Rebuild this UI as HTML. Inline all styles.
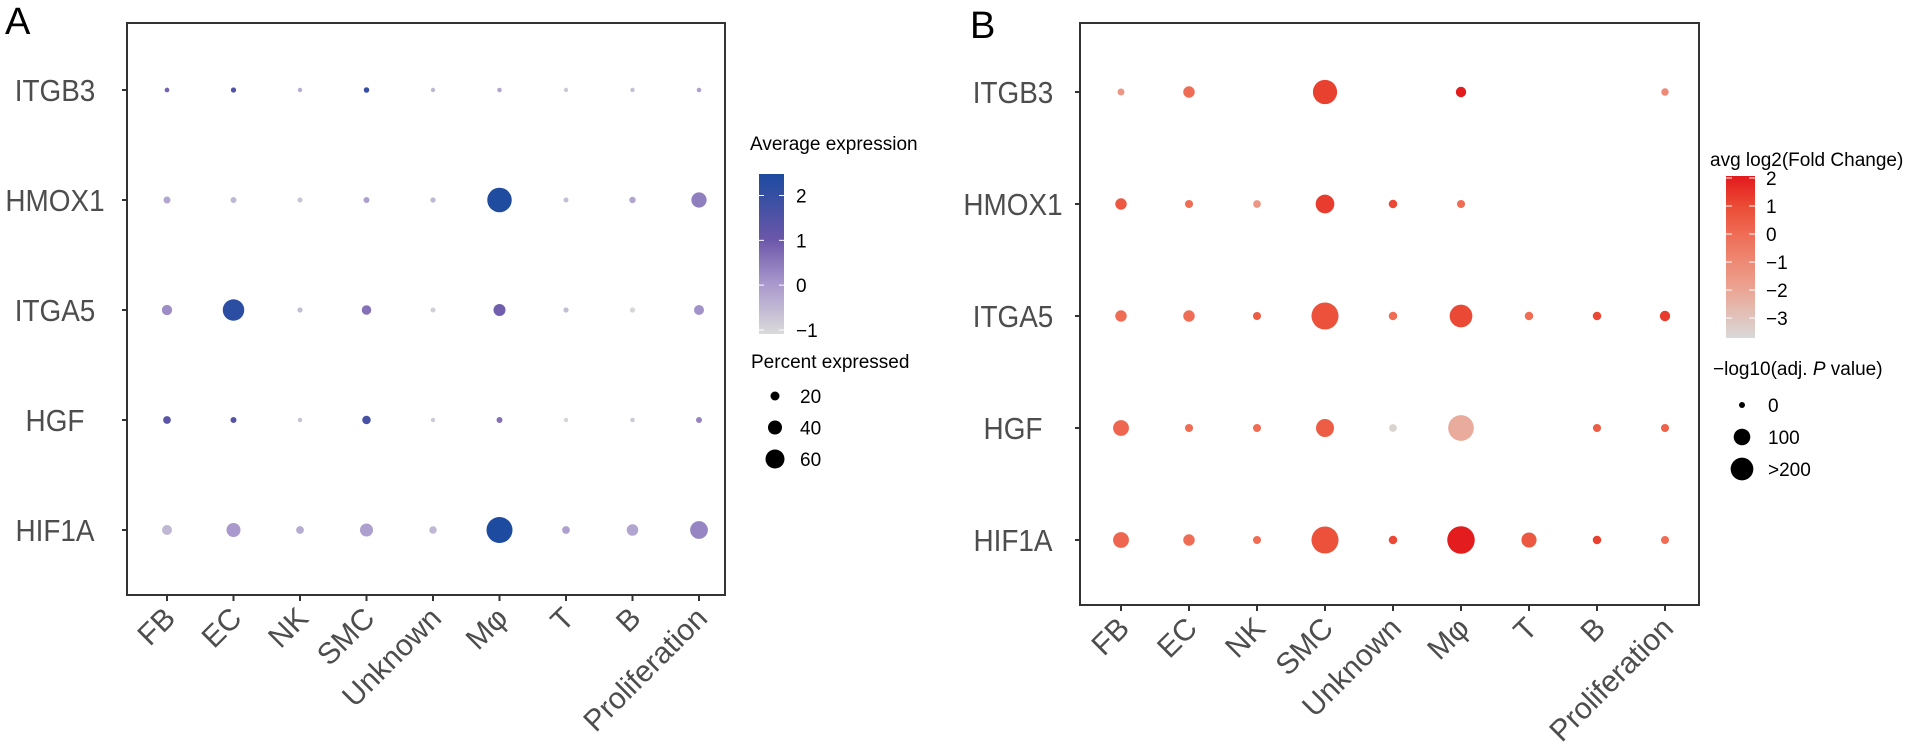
<!DOCTYPE html>
<html><head><meta charset="utf-8"><style>
html,body{margin:0;padding:0;background:#fff}
svg{display:block;font-family:"Liberation Sans",sans-serif}
</style></head><body>
<svg id="fig" width="1905" height="744" viewBox="0 0 1905 744">
<defs>
<linearGradient id="gA" x1="0" y1="1" x2="0" y2="0">
<stop offset="0" stop-color="#dadada"/><stop offset="0.31" stop-color="#a999cd"/><stop offset="0.59" stop-color="#6b57a9"/><stop offset="1" stop-color="#1c4ba0"/>
</linearGradient>
<linearGradient id="gB" x1="0" y1="1" x2="0" y2="0">
<stop offset="0" stop-color="#d9d9d9"/><stop offset="0.3" stop-color="#eba593"/><stop offset="0.64" stop-color="#ef6d55"/><stop offset="0.82" stop-color="#ea4a35"/><stop offset="1" stop-color="#e3191c"/>
</linearGradient>
</defs>
<text x="5" y="34" font-size="38">A</text>
<text x="970" y="38" font-size="38">B</text>
<g id="pa"></g>
<g id="pb"></g>
</svg>
<script>
const cats = ["FB","EC","NK","SMC","Unknown","Mφ","T","B","Proliferation"];
const genes = ["ITGB3","HMOX1","ITGA5","HGF","HIF1A"];
// Panel A: average expression and percent expressed
const exprA = [
 [0.8,1.5,-0.3,2.0,-0.5,-0.2,-0.8,-0.6,-0.1],
 [-0.2,-0.5,-0.7,-0.1,-0.5,2.4,-0.6,-0.2,0.4],
 [0.2,2.2,-0.6,0.6,-0.9,0.9,-0.6,-1.0,0.1],
 [1.3,1.4,-0.7,1.7,-0.8,0.6,-1.0,-0.8,0.3],
 [-0.5,0.0,-0.3,-0.1,-0.5,2.5,-0.1,-0.2,0.3]];
const pctA = [
 [3,5,1,6,1,2,1,1,2],
 [12,8,4,8,5,82,4,10,45],
 [25,70,5,22,4,32,5,5,24],
 [15,8,2,18,1,8,1,2,8],
 [24,40,15,36,14,88,15,30,55]];
const ticksA = [2,1,0,-1];
const pctLegend = [20,40,60];
// Panel B: log2 fold change and -log10 adj p (null = no dot)
const fcB = [
 [-1.5,0,null,1.2,null,2.0,null,null,-1],
 [0.6,0,-1.5,1.3,1,0,null,null,null],
 [0,0,0.5,0.8,0,1,0,1,1.3],
 [0.2,0,0,0.5,-3.5,-2.2,null,0.5,0.3],
 [0.2,0,0,0.8,1,2,0.6,1.2,0]];
const pvB = [
 [5,40,null,230,null,30,null,null,8],
 [40,12,10,130,15,12,null,null,null],
 [40,40,12,290,15,200,15,15,30],
 [90,12,12,120,10,260,null,12,12],
 [90,40,12,290,15,300,80,15,12]];
const ticksB = [2,1,0,-1,-2,-3];
const pvLegend = [0,100,200];
const pvLegendLabels = ["0","100",">200"];

const NS="http://www.w3.org/2000/svg";
function mk(tag,attrs,parent,text){const e=document.createElementNS(NS,tag);for(const k in attrs)e.setAttribute(k,attrs[k]);if(text!==undefined)e.textContent=text;parent.appendChild(e);return e;}
function lerpColor(stops,v){
 if(v<=stops[0][0])return stops[0][1];
 for(let i=1;i<stops.length;i++){if(v<=stops[i][0]){const a=stops[i-1],b=stops[i];const t=(v-a[0])/(b[0]-a[0]);
  const ca=a[1].match(/\w\w/g).map(h=>parseInt(h,16)),cb=b[1].match(/\w\w/g).map(h=>parseInt(h,16));
  return "rgb("+ca.map((c,j)=>Math.round(c+(cb[j]-c)*t)).join(",")+")";}}
 return stops[stops.length-1][1];}
const stopsA=[[-1.09,"#dadada"],[0,"#a999cd"],[1,"#6b57a9"],[2.48,"#1c4ba0"]];
const stopsB=[[-3.71,"#d9d9d9"],[-2,"#eba593"],[0,"#ef6d55"],[1,"#ea4a35"],[2.07,"#e3191c"]];

function panel(g,cfg){
 const xs=i=>cfg.x0+i*cfg.dx, ys=j=>cfg.y0+j*cfg.dy;
 const box=mk("rect",{x:cfg.L,y:cfg.T,width:cfg.R-cfg.L,height:cfg.B-cfg.T,fill:"none",stroke:"#333","stroke-width":2},g);
 
 
 genes.forEach((gn,j)=>{
  const t=mk("line",{x1:cfg.L-5,x2:cfg.L,y1:ys(j),y2:ys(j),stroke:"#333","stroke-width":2},g);
  
  
  const cx=cfg.labX, cy=ys(j)+11;
  const l=mk("text",{x:0,y:0,"text-anchor":"middle","font-size":31,fill:"#4d4d4d",transform:"translate("+cx+" "+cy+") scale(0.9 1)"},g,gn);
  
  
 });
 cats.forEach((c,i)=>{
  const t=mk("line",{x1:xs(i),x2:xs(i),y1:cfg.B,y2:cfg.B+6,stroke:"#333","stroke-width":2},g);
  
  
  const X=xs(i)+10,Y=cfg.B+25;
  const l=mk("text",{x:X,y:Y,"text-anchor":"end","font-size":30,fill:"#4d4d4d",transform:"rotate(-45 "+X+" "+Y+")"},g,c);
  
  
 });
 genes.forEach((gn,j)=>cats.forEach((c,i)=>{
  const v=cfg.col[j][i],s=cfg.size[j][i]; if(v===null||s===null)return;
  const d=mk("circle",{cx:xs(i),cy:ys(j),r:cfg.r(s),fill:lerpColor(cfg.stops,v)},g);
  
  
 }));
}
const pa=document.getElementById('pa'),pb=document.getElementById('pb');
const rA=p=>Math.max(2.2,2+0.125*p);
const rB=v=>Math.sqrt(9+0.6*v);
panel(pa,{L:127,R:725,T:23,B:595,x0:167,dx:66.5,y0:90,dy:110,col:exprA,size:pctA,stops:stopsA,r:rA,labX:55});
panel(pb,{L:1080,R:1699,T:23,B:605,x0:1121,dx:68,y0:92,dy:112,col:fcB,size:pvB,stops:stopsB,r:rB,labX:1013});

// Legend A
(function(){
 const g=pa;
 let t=mk("text",{x:750,y:150,"font-size":19},g,"Average expression");
 
 
 const top=174,bot=334,vt=2.48,vb=-1.09,yv=v=>top+(vt-v)/(vt-vb)*(bot-top);
 const cb=mk("rect",{x:759,y:top,width:25,height:bot-top,fill:"url(#gA)"},g);
 
 
 ticksA.forEach(v=>{
  mk("line",{x1:759,x2:764,y1:yv(v),y2:yv(v),stroke:"#fff","stroke-width":1},g);
  mk("line",{x1:779,x2:784,y1:yv(v),y2:yv(v),stroke:"#fff","stroke-width":1},g);
  const l=mk("text",{x:796,y:yv(v)+7,"font-size":19},g,v<0?"\u2212"+(-v):String(v));
  
  
 });
 t=mk("text",{x:751,y:368,"font-size":19},g,"Percent expressed");
 
 
 pctLegend.forEach((p,k)=>{
  const y=396+k*31.5;
  const c=mk("circle",{cx:775,cy:y,r:rA(p),fill:"#000"},g);
  
  
  const l=mk("text",{x:800,y:y+7,"font-size":19},g,String(p));
  
  
 });
})();
// Legend B
(function(){
 const g=pb;
 let t=mk("text",{x:1710,y:166,"font-size":19},g,"avg log2(Fold Change)");
 
 
 const top=176,bot=338,vt=2.07,vb=-3.71,yv=v=>top+(vt-v)/(vt-vb)*(bot-top);
 const cb=mk("rect",{x:1726,y:top,width:29,height:bot-top,fill:"url(#gB)"},g);
 
 
 ticksB.forEach(v=>{
  mk("line",{x1:1726,x2:1732,y1:yv(v),y2:yv(v),stroke:"#fff","stroke-width":1},g);
  mk("line",{x1:1749,x2:1755,y1:yv(v),y2:yv(v),stroke:"#fff","stroke-width":1},g);
  const l=mk("text",{x:1766,y:yv(v)+7,"font-size":19},g,v<0?"\u2212"+(-v):String(v));
  
  
 });
 t=mk("text",{x:1713,y:375,"font-size":19},g);
 
 
 mk("tspan",{},t,"\u2212log10(adj. ");
 mk("tspan",{"font-style":"italic"},t,"P");
 mk("tspan",{},t," value)");
 pvLegend.forEach((p,k)=>{
  const y=405+k*32;
  const c=mk("circle",{cx:1742,cy:y,r:rB(p),fill:"#000"},g);
  
  
  const l=mk("text",{x:1768,y:y+7,"font-size":19},g,pvLegendLabels[k]);
  
  
 });
})();
</script>
</body></html>
